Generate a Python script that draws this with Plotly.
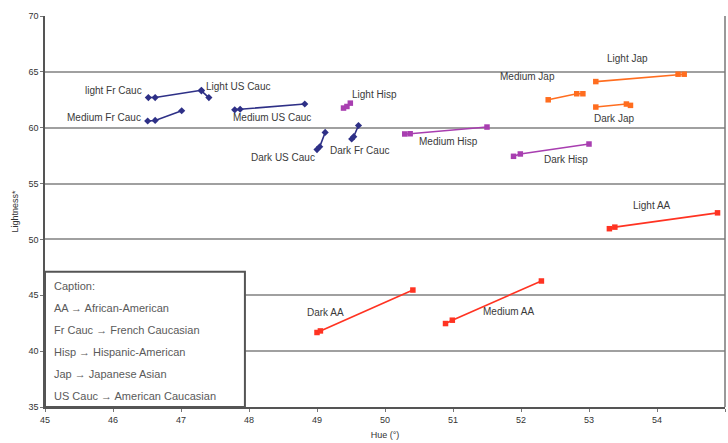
import plotly.graph_objects as go

# Hue / lightness pairs per skin group (three readings each)
series_names = [
    "light Fr Cauc", "Light US Cauc", "Medium Fr Cauc", "Medium US Cauc",
    "Dark US Cauc", "Dark Fr Cauc",
    "Light Hisp", "Medium Hisp", "Dark Hisp",
    "Light Jap", "Medium Jap", "Dark Jap",
    "Light AA", "Medium AA", "Dark AA",
]
series_hue = [
    [46.52, 46.62, 47.30],
    [47.30, 47.41],
    [46.51, 46.62, 47.01],
    [47.79, 47.87, 48.82],
    [49.00, 49.04, 49.12],
    [49.51, 49.54, 49.61],
    [49.39, 49.44, 49.49],
    [50.29, 50.37, 51.50],
    [51.89, 51.99, 53.00],
    [53.10, 54.31, 54.40],
    [52.40, 52.82, 52.91],
    [53.10, 53.55, 53.61],
    [53.30, 53.38, 54.89],
    [50.89, 50.99, 52.30],
    [49.00, 49.05, 50.41],
]
series_lightness = [
    [62.70, 62.70, 63.35],
    [63.30, 62.70],
    [60.60, 60.65, 61.52],
    [61.60, 61.65, 62.12],
    [58.04, 58.30, 59.58],
    [58.99, 59.20, 60.20],
    [61.76, 61.90, 62.20],
    [59.44, 59.46, 60.06],
    [57.44, 57.65, 58.54],
    [64.13, 64.79, 64.79],
    [62.50, 63.04, 63.04],
    [61.85, 62.12, 62.00],
    [50.96, 51.10, 52.38],
    [42.47, 42.77, 46.28],
    [41.67, 41.81, 45.47],
]
series_group = ["Cauc"] * 6 + ["Hisp"] * 3 + ["Jap"] * 3 + ["AA"] * 3

# Label anchor for each group's text
label_hue = [46.0, 47.84, 45.87, 48.34, 48.5, 49.63,
             49.85, 50.94, 52.66, 53.56, 52.10, 53.37,
             53.93, 51.81, 49.12]
label_lightness = [63.3, 63.66, 60.9, 60.9, 57.3, 57.95,
                   62.95, 58.75, 57.14, 66.16, 64.55, 60.8,
                   53.04, 43.57, 43.48]

caption_lines = [
    "Caption:",
    "AA \u2192 African-American",
    "Fr Cauc \u2192 French Caucasian",
    "Hisp \u2192 Hispanic-American",
    "Jap \u2192 Japanese Asian",
    "US Cauc \u2192 American Caucasian",
]

x_ticks = list(range(45, 56))
y_ticks = list(range(35, 71, 5))

group_style = {
    "Cauc": dict(color="#2e3087", symbol="diamond"),
    "Hisp": dict(color="#a83eb0", symbol="square"),
    "Jap": dict(color="#ff6d1f", symbol="square"),
    "AA": dict(color="#ff3322", symbol="square"),
}

fig = go.Figure()
for name, hx, ly, grp in zip(series_names, series_hue, series_lightness, series_group):
    st = group_style[grp]
    fig.add_trace(go.Scatter(
        x=hx, y=ly, mode="lines+markers", name=name,
        line=dict(color=st["color"], width=1.6),
        marker=dict(color=st["color"], symbol=st["symbol"], size=5.5),
        showlegend=False, hoverinfo="x+y+name",
    ))

label_font = dict(family="Liberation Sans, Arial, sans-serif", size=10, color="#3a3a3a")
for name, hx, ly in zip(series_names, label_hue, label_lightness):
    fig.add_annotation(x=hx, y=ly, text=name, showarrow=False, font=label_font,
                       xanchor="center", yanchor="middle")

# Caption box in the lower-left corner
box_left, box_right, box_top, box_bottom = 0.0, 0.294, 0.346, 0.0
fig.add_shape(type="rect", xref="paper", yref="paper",
              x0=box_left, x1=box_right, y0=box_bottom, y1=box_top,
              line=dict(color="#555555", width=2), fillcolor="white", layer="above")
cap_font = dict(family="Liberation Sans, Arial, sans-serif", size=11, color="#5a5a5a")
for i, line in enumerate(caption_lines):
    fig.add_annotation(xref="paper", yref="paper", x=0.011, y=0.309 - i * 0.0563,
                       text=line, showarrow=False, font=cap_font,
                       xanchor="left", yanchor="middle")

tick_font = dict(family="Liberation Sans, Arial, sans-serif", size=9, color="#333333")
fig.update_layout(
    width=728, height=443,
    margin=dict(l=45, r=3, t=16, b=36),
    paper_bgcolor="white", plot_bgcolor="white",
    xaxis=dict(
        range=[45, 55], tickvals=x_ticks, ticktext=[str(v) for v in x_ticks],
        showgrid=False, zeroline=False,
        showline=True, linecolor="#555555", linewidth=1.5, mirror=False,
        ticks="outside", ticklen=3, tickcolor="#777777", tickfont=tick_font,
        title=dict(text="Hue (\u00b0)", font=dict(family="Liberation Sans, Arial, sans-serif",
                                                  size=9, color="#333333"), standoff=8),
    ),
    yaxis=dict(
        range=[35, 70], tickvals=y_ticks, ticktext=[str(v) for v in y_ticks],
        showgrid=True, gridcolor="#a0a0a0", gridwidth=1.5, zeroline=False,
        showline=True, linecolor="#555555", linewidth=1.5,
        ticks="outside", ticklen=3, tickcolor="#777777", tickfont=tick_font,
        title=dict(text="Lightness*", font=dict(family="Liberation Sans, Arial, sans-serif",
                                                size=9, color="#333333"), standoff=8),
    ),
)
# Right frame edge
fig.add_shape(type="line", xref="paper", yref="paper", x0=1, x1=1, y0=0, y1=1,
              line=dict(color="#777777", width=1.5))

fig.write_html("out.html")
